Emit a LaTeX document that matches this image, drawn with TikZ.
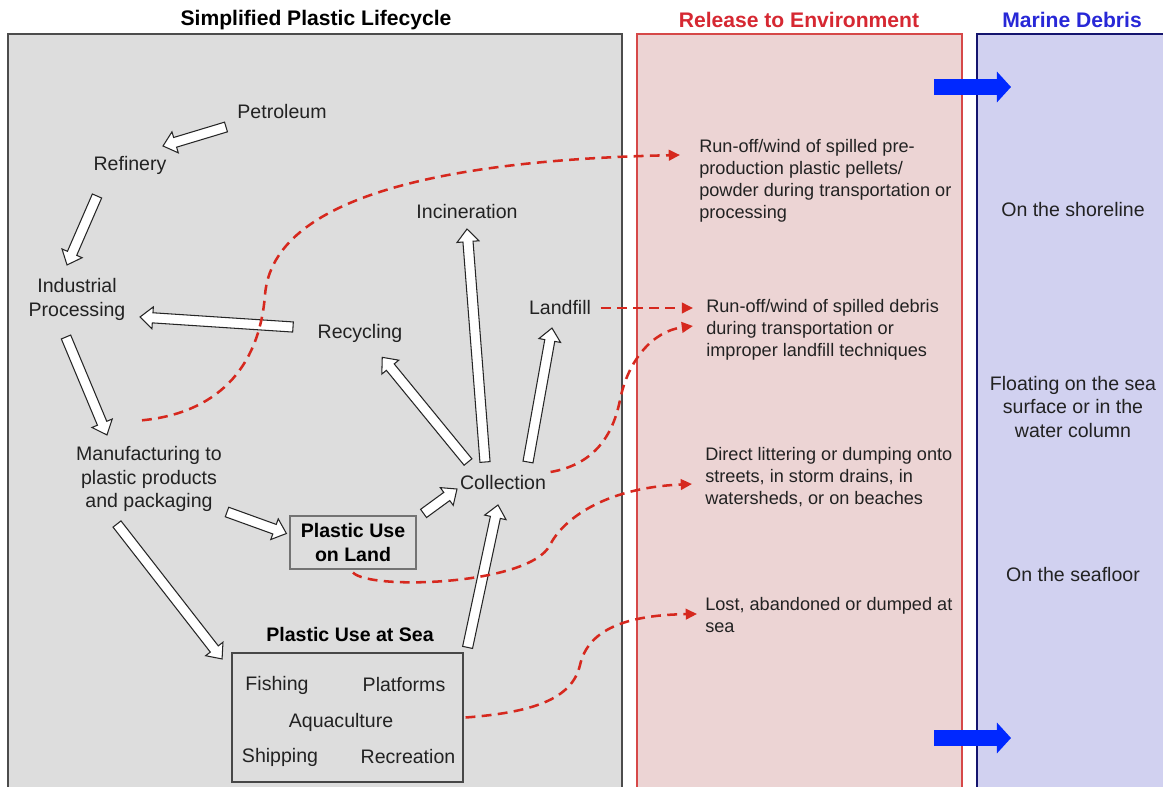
\documentclass[tikz,border=0pt]{standalone}
\usepackage{fontspec}
\setmainfont{Liberation Sans}
\usetikzlibrary{calc,arrows.meta}

\definecolor{lifegray}{RGB}{221,221,221}
\definecolor{releasered}{RGB}{236,212,212}
\definecolor{debrisblue}{RGB}{209,209,240}
\definecolor{edgered}{RGB}{214,72,72}
\definecolor{edgeblue}{RGB}{20,20,110}
\definecolor{titlered}{RGB}{214,40,50}
\definecolor{titleblue}{RGB}{40,40,215}
\definecolor{leakred}{RGB}{214,40,30}
\definecolor{flowblue}{RGB}{0,40,255}
\definecolor{inkgray}{RGB}{34,34,34}

\tikzset{
	stage/.style={text=inkgray, inner sep=1pt, align=center, font=\fontsize{13.9}{17}\selectfont},
	usebox/.style={draw=black!55, line width=0.8pt, fill=lifegray, inner sep=0pt, align=center, text=black, font=\bfseries\fontsize{13.9}{16.4}\selectfont},
	release/.style={text=inkgray, anchor=west, align=left, inner sep=0pt, font=\fontsize{12.9}{15.5}\selectfont},
	fate/.style={text=inkgray, align=center, inner sep=0pt, font=\fontsize{13.9}{16.7}\selectfont},
	heading/.style={font=\bfseries\fontsize{15}{18}\selectfont},
	leak/.style={draw=leakred, line width=1.8pt, dash pattern=on 7pt off 4.5pt, -{Triangle[length=8pt,width=7.5pt]}},
	outflow/.style={draw=flowblue, line width=10.7pt, -{Triangle[length=10pt,width=21.3pt]}},
	flow/.style={draw=black!85, fill=white, line width=0.75pt, line join=miter,
		to path={let \p1=(\tikztostart), \p2=(\tikztotarget),
			\n1={atan2(\y2-\y1,\x2-\x1)}, \n2={veclen(\x2-\x1,\y2-\y1)} in
			[shift={(\p1)}, rotate=\n1]
			(0pt,-3.6pt) -- (\n2-9pt,-3.6pt) -- (\n2-9pt,-7.8pt) -- (\n2+0pt,0pt)
			-- (\n2-9pt,7.8pt) -- (\n2-9pt,3.6pt) -- (0pt,3.6pt) -- cycle}}
}

\begin{document}
\begin{tikzpicture}[x=0.025cm, y=-0.025cm]
	\clip (0,0) rectangle (1163,787);
	\fill[white] (0,0) rectangle (1163,787);
	%%%%%%%%%%%%%%%%%%%%%%%%%%%%%%%%
	\draw[black!70, line width=1pt, fill=lifegray] (8,34) rectangle (622,800);
	\draw[edgered, line width=1pt, fill=releasered] (637,34) rectangle (962,800);
	\draw[edgeblue, line width=1.4pt, fill=debrisblue] (977,34) rectangle (1180,800);
	\node[heading] (lifehead) at (316,20) {Simplified Plastic Lifecycle};
	\node[heading, text=titlered] (relhead) at (799,20) {Release to Environment};
	\node[heading, text=titleblue] (debhead) at (1072,20) {Marine Debris};
	%%%%%%%%%%%%%%%%%%%%%%%%%%%%%%%%
	\node[stage] (petro) at (282,112) {Petroleum};
	\node[stage] (refin) at (130,165) {Refinery};
	\node[stage] (ip) at (77,299) {Industrial\\Processing};
	\node[stage] (manuf) at (149,479) {Manufacturing to\\plastic products\\and packaging};
	\node[stage] (recyc) at (360,333) {Recycling};
	\node[stage] (incin) at (467,212) {Incineration};
	\node[stage] (landf) at (560,308) {Landfill};
	\node[stage] (coll) at (503,483) {Collection};
	\node[usebox, minimum width=89.6pt, minimum height=37.7pt] (land) at (353,542.5) {Plastic Use\\on Land};
	\node[usebox, draw=black!72, minimum width=164.3pt, minimum height=91.8pt] (sea) at (347.5,717.5) {};
	\node[stage, font=\bfseries\fontsize{13.9}{17}\selectfont, text=black] (seahead) at (350,635) {Plastic Use at Sea};
	\node[stage] (fish) at (277,685) {Fishing};
	\node[stage] (platf) at (404,685) {Platforms};
	\node[stage] (aquac) at (341,722) {Aquaculture};
	\node[stage] (ship) at (280,757) {Shipping};
	\node[stage] (recre) at (408,757) {Recreation};
	%%%%%%%%%%%%%%%%%%%%%%%%%%%%%%%%
	\node[release] (rel1) at (699,181) {Run-off/wind of spilled pre-\\production plastic pellets/\\powder during transportation or\\processing};
	\node[release] (rel2) at (706,330) {Run-off/wind of spilled debris\\during transportation or\\improper landfill techniques};
	\node[release] (rel3) at (705,477) {Direct littering or dumping onto\\streets, in storm drains, in\\watersheds, or on beaches};
	\node[release] (rel4) at (705,615) {Lost, abandoned or dumped at\\sea};
	%%%%%%%%%%%%%%%%%%%%%%%%%%%%%%%%
	\node[fate] (shore) at (1073,210) {On the shoreline};
	\node[fate] (float) at (1073,407) {Floating on the sea\\surface or in the\\water column};
	\node[fate] (floor) at (1073,575) {On the seafloor};
	\coordinate (upperfrom) at (934,87);
	\coordinate (upperto) at (1011,87);
	\coordinate (lowerfrom) at (934,738);
	\coordinate (lowerto) at (1011,738);
	\draw[outflow] (upperfrom) -- (upperto);
	\draw[outflow] (lowerfrom) -- (lowerto);
	%%%%%%%%%%%%%%%%%%%%%%%%%%%%%%%%
	\draw[flow] ($(petro)+(-56,15)$) to ($(refin)+(33,-19)$);
	\draw[flow] ($(refin)+(-33,31)$) to ($(ip)+(-10,-34)$);
	\draw[flow] ($(recyc)+(-67,-6)$) to ($(ip)+(63,18)$);
	\draw[flow] ($(ip)+(-11,38)$) to ($(manuf)+(-42,-44)$);
	\draw[flow] ($(manuf)+(78,33)$) to ($(land.west)+(-3,-9)$);
	\draw[flow] ($(manuf)+(-32,45)$) to ($(sea.north west)+(-9,7)$);
	\draw[flow] ($(land.north east)+(7,-2)$) to ($(coll)+(-46,6)$);
	\draw[flow] ($(coll)+(-35,-21)$) to ($(recyc)+(22,24)$);
	\draw[flow] ($(coll)+(-18,-21)$) to ($(incin)+(0,17)$);
	\draw[flow] ($(coll)+(25,-21)$) to ($(landf)+(-8,20)$);
	\draw[flow] ($(sea.north east)+(4,-5)$) to ($(coll)+(-5,22)$);
	%%%%%%%%%%%%%%%%%%%%%%%%%%%%%%%%
	\draw[leak] ($(manuf.north)+(-7,-24)$) .. controls +(73,-7) and +(-6,75) .. (265,295)
		.. controls +(8,-100) and +(-230,5) .. ($(rel1.west)+(-19,-26)$);
	\draw[leak] ($(landf.east)+(8,0)$) -- ($(rel2.west)+(-13,-22)$);
	\draw[leak] ($(coll.east)+(3,-11)$) .. controls +(40,-7) and +(-8,40) .. (620,400)
		.. controls +(8,-40) and +(-40,5) .. ($(rel2.west)+(-13,-4)$);
	\draw[leak] ($(land.south)+(0,3)$) .. controls +(17,18) and +(-20,40) .. (550,545)
		.. controls +(12,-24) and +(-90,4) .. ($(rel3.west)+(-13,7)$);
	\draw[leak] ($(sea.east)+(2,0)$) .. controls +(65,-5) and +(-8,35) .. (580,665)
		.. controls +(8,-35) and +(-72,1) .. ($(rel4.west)+(-8,-1)$);
\end{tikzpicture}
\end{document}
